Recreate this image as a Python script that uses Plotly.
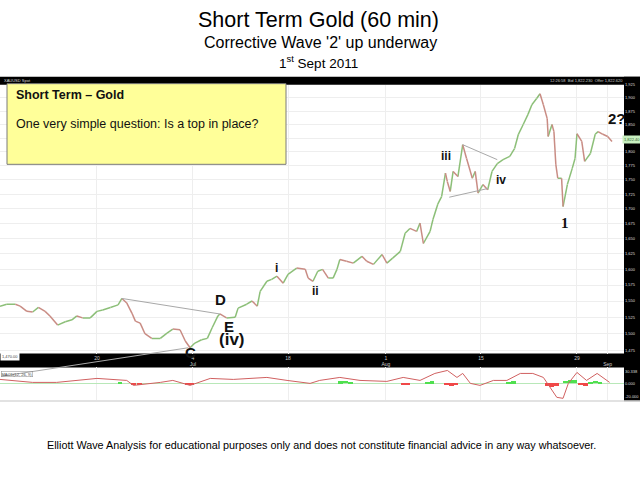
"""Short term gold, 60 min, Elliott wave count (1 Sept 2011)"""
import math

import plotly.graph_objects as go

W, H = 640, 478

# price path (trading days from 6 Jun 2011, gold spot USD)
days = [0.0, 0.7, 1.6, 2.1, 2.8, 3.4, 4.0, 4.7, 5.2, 6.0, 6.8, 7.5, 8.0, 8.6,
        9.4, 10.1, 10.7, 11.5, 12.3, 12.7, 13.2, 13.75, 14.1, 14.6, 15.1,
        15.8, 16.7, 17.4, 18.0, 18.75, 19.3, 19.8, 20.3, 21.0, 21.6, 22.1,
        22.7, 22.9, 23.6, 24.5, 24.8, 25.7, 26.25, 26.8, 27.1, 27.8, 28.3,
        28.85, 29.5, 30.0, 30.9, 31.8, 32.1, 32.6, 33.1, 33.6, 34.2, 34.7,
        35.1, 35.4, 36.1, 36.8, 37.7, 38.2, 38.9, 39.8, 40.3, 40.9, 41.7,
        42.2, 42.7, 43.4, 43.75, 44.1, 44.8, 45.1, 45.6, 46.0, 46.4, 46.6,
        46.9, 47.2, 47.7, 48.2, 48.6, 49.2, 49.5, 49.8, 50.3, 50.8, 51.25,
        51.8, 52.4, 53.1, 53.6, 54.0, 54.5, 55.0, 55.4, 55.9, 56.25, 56.6,
        57.0, 57.1, 57.5, 57.7, 57.9, 58.1, 58.5, 58.65, 59.1, 59.6, 59.9,
        60.1, 60.6, 60.9, 61.5, 62.0, 62.3, 62.8, 63.3, 63.75]
prices = [1542, 1545, 1545, 1542, 1534, 1533, 1540, 1534, 1527, 1513, 1518,
          1521, 1527, 1524, 1524, 1534, 1536, 1540, 1544, 1554, 1547, 1531,
          1519, 1516, 1500, 1493, 1493, 1501, 1507, 1506, 1489, 1479, 1486,
          1491, 1493, 1509, 1527, 1530, 1524, 1525, 1539, 1545, 1550, 1542,
          1565, 1581, 1584, 1589, 1578, 1592, 1602, 1600, 1586, 1581, 1597,
          1600, 1586, 1586, 1600, 1616, 1613, 1610, 1621, 1613, 1608, 1624,
          1610, 1618, 1629, 1659, 1667, 1662, 1676, 1642, 1662, 1682, 1708,
          1721, 1762, 1747, 1730, 1765, 1756, 1813, 1788, 1753, 1765, 1727,
          1742, 1733, 1765, 1779, 1786, 1792, 1806, 1832, 1850, 1869, 1887,
          1899, 1908, 1887, 1861, 1828, 1850, 1837, 1777, 1753, 1753, 1704,
          1742, 1770, 1788, 1833, 1819, 1783, 1797, 1832, 1837, 1832, 1828,
          1819]

# oscillator panel
osc_days = [0.0, 3.4, 5.9, 10.1, 13.2, 13.9, 16.7, 18.0, 19.8, 21.9, 24.3,
            27.8, 29.9, 32.3, 33.3, 35.4, 37.5, 40.3, 42.0, 43.75, 45.3, 46.6,
            47.6, 48.2, 49.0, 50.0, 51.4, 52.8, 54.2, 55.5, 56.6, 57.3, 58.0,
            58.65, 59.2, 60.1, 61.1, 62.2, 63.5]
osc_vals = [9, 3, 3, 11, 7, -3, 3, 7, -3, 11, 9, 13, 7, 1, 7, 13, 7, 5, 13, 7,
            21, 27, 13, 21, 1, -3, 7, 7, 21, 21, 13, -7, -27, -29, 1, 23, 7,
            21, 3]
hist_days = [12.5, 13.9, 14.5, 19.5, 20.0, 35.5, 36.0, 36.5, 42.0, 42.5, 44.5,
             45.0, 46.5, 47.0, 47.5, 53.0, 53.5, 57.0, 57.5, 58.0, 58.9, 59.4,
             59.9, 60.5, 61.0, 61.5, 62.0, 62.5]
hist_vals = [2, -4, -3, -3, -2, 4, 5, 3, -2, -3, 3, 4, -3, -5, -4, 3, 4, -5,
             -7, -6, 5, 7, 6, -4, -5, 3, 5, 3]

# trend lines (day, price)
big_upper = ([12.7, 22.9], [1554, 1530])
big_lower = ([0.0, 19.6], [1437, 1479])
tri_upper = ([48.2, 51.8], [1813, 1786])
tri_lower = ([46.8, 50.8], [1720, 1735])

# wave labels: text, day, price, size, family
waves = [
    ("<b>(v)?</b>", 57.0, 1974, 16, "Liberation Sans"),
    ("<b>v</b>", 56.35, 1951, 9, "Liberation Sans"),
    ("<b>2?</b>", 64.3, 1861, 15, "Liberation Sans"),
    ("<b>1</b>", 58.85, 1676, 15, "Liberation Serif"),
    ("<b>iii</b>", 46.45, 1792, 12, "Liberation Sans"),
    ("<b>iv</b>", 52.2, 1750, 12, "Liberation Sans"),
    ("<b>i</b>", 28.85, 1602, 12, "Liberation Sans"),
    ("<b>ii</b>", 32.9, 1566, 12, "Liberation Sans"),
    ("<b>D</b>", 23.0, 1552, 15, "Liberation Sans"),
    ("<b>E</b>", 23.85, 1511, 15, "Liberation Sans"),
    ("<b>(iv)</b>", 24.2, 1491, 17, "Liberation Sans"),
    ("<b>C</b>", 19.8, 1472, 15, "Liberation Sans"),
]

x_ticks = [10.1, 20.1, 30.0, 40.2, 50.1, 60.1, 63.3]
x_ticktext = ["20", "4<br>Jul", "18", "1<br>Aug", "15", "29", " <br>Sep"]
y_ticks = list(range(1475, 1926, 25))
y_ticktext = ["{:,}".format(v) for v in y_ticks]
last_price = 1822.4


def px(x, y):
    """pixel position -> paper fraction"""
    return x / W, 1 - y / H


fig = go.Figure()

# split the path into up and down legs so it reads like the candle colours
ux, uy, dx, dy = [], [], [], []
for i in range(len(days) - 1):
    seg_x = [days[i], days[i + 1], None]
    seg_y = [prices[i], prices[i + 1], None]
    if prices[i + 1] >= prices[i]:
        ux += seg_x
        uy += seg_y
    else:
        dx += seg_x
        dy += seg_y
fig.add_trace(go.Scatter(x=ux, y=uy, mode="lines",
                         line=dict(color="#8cbf78", width=1.5),
                         hoverinfo="skip", xaxis="x", yaxis="y"))
fig.add_trace(go.Scatter(x=dx, y=dy, mode="lines",
                         line=dict(color="#c98c84", width=1.5),
                         hoverinfo="skip", xaxis="x", yaxis="y"))

for lx, ly in (big_upper, tri_upper, tri_lower):
    fig.add_trace(go.Scatter(x=lx, y=ly, mode="lines",
                             line=dict(color="#a8a8a8", width=1),
                             hoverinfo="skip", xaxis="x", yaxis="y"))

fig.add_trace(go.Bar(x=hist_days, y=hist_vals, width=0.5,
                     marker=dict(color=["#4fe04f" if v > 0 else "#f04848"
                                        for v in hist_vals], line_width=0),
                     xaxis="x2", yaxis="y2", hoverinfo="skip"))
fig.add_trace(go.Scatter(x=osc_days, y=osc_vals, mode="lines",
                         line=dict(color="#d06060", width=1),
                         xaxis="x2", yaxis="y2", hoverinfo="skip"))

ann = []
for txt, d, p, size, fam in waves:
    ann.append(dict(x=d, y=math.log10(p), xref="x", yref="y", text=txt,
                    showarrow=False, xanchor="center", yanchor="middle",
                    font=dict(size=size, family=fam, color="#111111")))

# lower edge of the big triangle runs out of the price panel
ann.append(dict(x=big_lower[0][1], y=math.log10(big_lower[1][1]),
                ax=big_lower[0][0], ay=math.log10(big_lower[1][0]),
                xref="x", yref="y", axref="x", ayref="y", text="",
                showarrow=True, arrowhead=0, arrowwidth=1,
                arrowcolor="#a8a8a8", standoff=0, startstandoff=0))


def note(txt, x, y, size, color="#000000", xanchor="center", **kw):
    xx, yy = px(x, y)
    ann.append(dict(x=xx, y=yy, xref="paper", yref="paper", text=txt,
                    showarrow=False, xanchor=xanchor, yanchor="middle",
                    font=dict(size=size, family="Liberation Sans",
                              color=color), **kw))


# headings
note("Short Term Gold (60 min)", 318, 18, 21.5)
note("Corrective Wave '2' up underway", 320, 41, 16)
note("1<sup>st</sup> Sept 2011", 318, 60, 13.5)
note("Elliott Wave Analysis for educational purposes only and does not "
     "constitute financial advice in any way whatsoever.", 321, 445, 10.8)

# note box text
note("<b>Short Term – Gold</b>", 14, 93, 12.5, "#111111", "left")
note("One very simple question: Is a top in place?", 14, 123, 12.5,
     "#111111", "left")

# terminal furniture
note("XAUUSD Spot", 2, 79, 4, "#dddddd", "left")
note("12:26:58  Bid 1,822.230  Offer 1,822.620", 586, 79, 4, "#cccccc")
note("MACD(12, 26, 9)", 1, 374, 4, "#444444", "left",
     bordercolor="#888888", borderwidth=0.5, borderpad=0)
note("1,470.00", 0, 356, 4, "#444444", "left", bgcolor="#ffffff")
ann.append(dict(x=px(632, 0)[0], y=math.log10(last_price), xref="paper",
                yref="y", text="1,822.40", showarrow=False,
                xanchor="center", yanchor="middle", bgcolor="#c8f0c0",
                font=dict(size=4, family="Liberation Sans",
                          color="#336633")))

shapes = []


def rect(x0, y0, x1, y1, fill, line=None, layer="below"):
    a0, b0 = px(x0, y1)
    a1, b1 = px(x1, y0)
    shapes.append(dict(type="rect", xref="paper", yref="paper",
                       x0=a0, y0=b0, x1=a1, y1=b1, fillcolor=fill,
                       line=line or dict(width=0), layer=layer))


rect(0, 75, 640, 83, "#000000")
rect(624, 75, 640, 401, "#000000")
rect(0, 353, 640, 367, "#000000")
rect(0, 400, 640, 401.5, "#d8d8d8")
rect(7, 82, 286, 163, "#ffff99", line=dict(color="#7a7a7a", width=1),
     layer="above")

sans = "Liberation Sans"
grid = "#eeeeee"
fig.update_layout(
    width=W, height=H,
    margin=dict(l=0, r=0, t=0, b=0),
    paper_bgcolor="#ffffff", plot_bgcolor="#ffffff",
    showlegend=False,
    bargap=0,
    annotations=ann,
    shapes=shapes,
    xaxis=dict(domain=[0, 624 / W], range=[0, 65], tickvals=x_ticks,
               ticktext=x_ticktext, showgrid=True, gridcolor=grid,
               zeroline=False, ticks="", anchor="y",
               tickfont=dict(size=5, family=sans, color="#c8c8c8")),
    yaxis=dict(domain=[1 - 353 / H, 1 - 83 / H], type="log",
               range=[math.log10(1470.5), math.log10(1925.5)], side="right",
               tickvals=y_ticks, ticktext=y_ticktext, showgrid=True,
               gridcolor=grid, zeroline=False, ticks="", anchor="x",
               tickfont=dict(size=4, family=sans, color="#dddddd")),
    xaxis2=dict(domain=[0, 624 / W], range=[0, 65], matches="x",
                tickvals=x_ticks, showticklabels=False, showgrid=True,
                gridcolor=grid, zeroline=False, anchor="y2"),
    yaxis2=dict(domain=[1 - 400 / H, 1 - 367 / H], range=[-33, 33],
                side="right", tickvals=[25, 0, -25],
                ticktext=["30.338", "0.000", "-20.000"], showgrid=False,
                zeroline=True, zerolinecolor="#b8e8b8", zerolinewidth=1,
                ticks="", anchor="x2",
                tickfont=dict(size=4, family=sans, color="#dddddd")),
)

# the page is photographed at exactly the figure size
fig.write_html("out.html",
               config={"displayModeBar": False, "displaylogo": False},
               post_script="document.body.style.margin='0';"
                           "document.body.style.overflow='hidden';")
